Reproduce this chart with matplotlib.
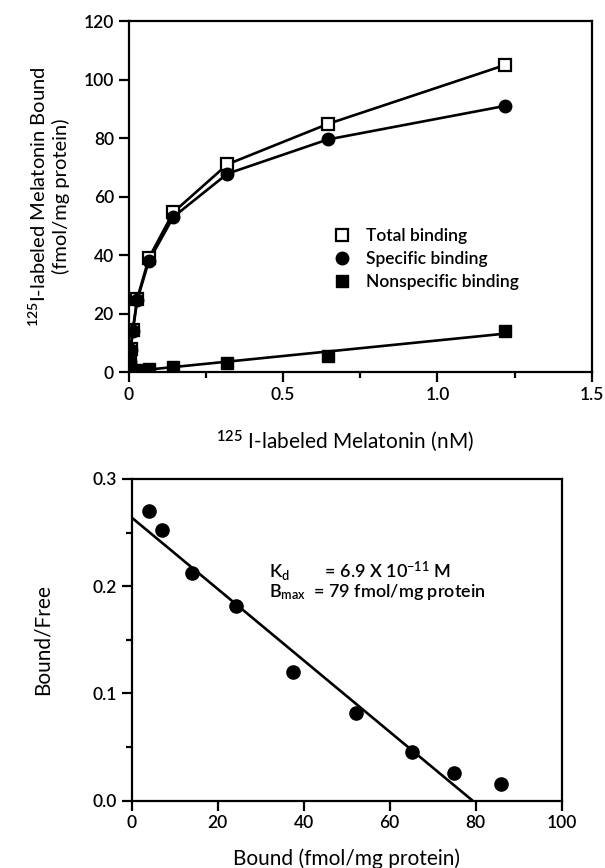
import numpy as np
import matplotlib
matplotlib.use("Agg")
import matplotlib.pyplot as plt
from matplotlib.ticker import MultipleLocator

plt.rcParams['font.family'] = ['Lato', 'DejaVu Sans']
plt.rcParams['font.size'] = 12
plt.rcParams['font.weight'] = 'semibold'
plt.rcParams['mathtext.fontset'] = 'custom'
plt.rcParams['mathtext.rm'] = 'Lato:semibold'
plt.rcParams['mathtext.default'] = 'rm'

# Saturation data (top panel).
conc = [0.004, 0.007, 0.014, 0.028, 0.066, 0.145, 0.32, 0.645, 1.22]
total = [3.8, 8.0, 14.5, 25.0, 39.0, 54.6, 71.0, 84.8, 105.0]
specific = [3.5, 7.5, 14.0, 24.5, 38.0, 53.0, 67.8, 79.5, 91.0]
nonspecific = [0.3, 0.4, 0.5, 0.7, 1.0, 1.8, 3.2, 5.5, 14.0]

top_xticks = [0, 0.5, 1.0, 1.5]
top_xlabels = ["0", "0.5", "1.0", "1.5"]
top_yticks = [0, 20, 40, 60, 80, 100, 120]

# Scatchard data (bottom panel).
bound = [4.1, 7.1, 14.1, 24.3, 37.4, 52.1, 65.3, 75.0, 86.0]
bound_free = [0.270, 0.252, 0.212, 0.182, 0.120, 0.082, 0.045, 0.026, 0.016]
intercept = 0.264
bmax = 79.3

bot_xticks = [0, 20, 40, 60, 80, 100]
bot_yticks = [0.0, 0.1, 0.2, 0.3]
bot_ylabels = ["0.0", "0.1", "0.2", "0.3"]

fig = plt.figure(figsize=(6.05, 8.68), dpi=100)
ax1 = fig.add_axes([0.2124, 0.5714, 0.7661, 0.4044])
ax2 = fig.add_axes([0.2177, 0.0775, 0.7107, 0.3707])

for ax in (ax1, ax2):
    for sp in ax.spines.values():
        sp.set_linewidth(1.6)
    ax.tick_params(which='major', direction='out', length=7, width=1.6, labelsize=12.5)
    ax.tick_params(which='minor', direction='out', length=4, width=1.6)

# top panel
ax1.plot(conc, total, color='black', lw=1.9)
ax1.plot(conc, specific, color='black', lw=1.9)
fit = np.polyfit(conc, nonspecific, 1)
xs = np.array([0, conc[-1]])
ax1.plot(xs, np.polyval(fit, xs), color='black', lw=1.9)

ax1.plot(conc, total, ls='none', marker='s', ms=8, mfc='white', mec='black', mew=1.6,
         label='Total binding')
ax1.plot(conc, specific, ls='none', marker='o', ms=9, color='black', label='Specific binding')
ax1.plot(conc, nonspecific, ls='none', marker='s', ms=8, color='black',
         label='Nonspecific binding')

ax1.set_xlim(0, 1.5)
ax1.set_ylim(0, 120)
ax1.set_xticks(top_xticks)
ax1.set_xticklabels(top_xlabels)
ax1.set_yticks(top_yticks)
ax1.xaxis.set_minor_locator(MultipleLocator(0.25))
ax1.set_xlabel("$^{125}$ I-labeled Melatonin (nM)", fontsize=15)
ax1.xaxis.set_label_coords(0.467, -0.16)
ax1.set_ylabel("$^{125}$I-labeled Melatonin Bound\n(fmol/mg protein)", fontsize=14.5,
               labelpad=10)
ax1.legend(loc='upper left', bbox_to_anchor=(0.445, 0.41), frameon=False,
           borderpad=0, borderaxespad=0, handlelength=0.8, handletextpad=1.0,
           labelspacing=0.4, fontsize=12.5)

# bottom panel
xl = np.array([0, bmax])
ax2.plot(xl, intercept - intercept / bmax * xl, color='black', lw=1.9)
ax2.plot(bound, bound_free, ls='none', marker='o', ms=9.5, color='black')
ax2.set_xlim(0, 100)
ax2.set_ylim(0, 0.3)
ax2.set_xticks(bot_xticks)
ax2.set_yticks(bot_yticks)
ax2.set_yticklabels(bot_ylabels)
ax2.yaxis.set_minor_locator(MultipleLocator(0.05))
ax2.set_xlabel("Bound (fmol/mg protein)", fontsize=15, labelpad=12)
ax2.set_ylabel("Bound/Free", fontsize=15, labelpad=29)
ax2.text(32, 0.214, "K$_d$        = 6.9 X 10$^{-11}$ M", fontsize=13, va='center')
ax2.text(32, 0.195, "B$_{max}$  = 79 fmol/mg protein", fontsize=13, va='center')

fig.savefig("out.png", dpi=100)
